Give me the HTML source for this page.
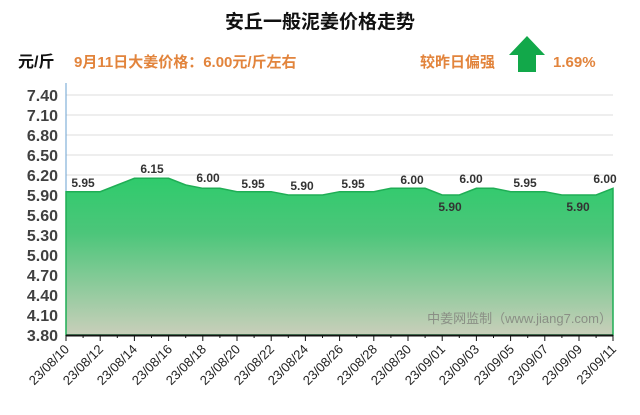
<!DOCTYPE html>
<html><head><meta charset="utf-8"><style>
body{margin:0;background:#fff;}
svg text{font-family:"Liberation Sans","Noto Sans CJK SC",sans-serif;}
</style></head><body>
<svg width="640" height="410" xmlns="http://www.w3.org/2000/svg">
<defs>
<linearGradient id="g" x1="0" y1="0" x2="0" y2="1">
<stop offset="0" stop-color="#2fcb6c"/>
<stop offset="0.35" stop-color="#4cc67a"/>
<stop offset="1" stop-color="#c9cfba"/>
</linearGradient>
</defs>
<text x="320" y="28" font-size="19" font-weight="bold" text-anchor="middle" fill="#111">安丘一般泥姜价格走势</text>
<text x="18" y="67" font-size="16" font-weight="bold" fill="#111">元/斤</text>
<text x="74" y="67" font-size="15" font-weight="bold" fill="#e2843c">9月11日大姜价格：6.00元/斤左右</text>
<text x="420" y="67" font-size="15" font-weight="bold" fill="#e2843c">较昨日偏强</text>
<polygon points="527,36 545,55 536,55 536,72 518,72 518,55 509,55" fill="#12a84a"/>
<text x="553" y="67" font-size="15" font-weight="bold" fill="#e2843c">1.69%</text>
<g stroke="#dcdcdc" stroke-width="1">
<line x1="66" x2="613" y1="95" y2="95"/><line x1="66" x2="613" y1="115" y2="115"/><line x1="66" x2="613" y1="135" y2="135"/><line x1="66" x2="613" y1="155" y2="155"/><line x1="66" x2="613" y1="175" y2="175"/>
</g>
<line x1="66" y1="83" x2="66" y2="335" stroke="#6aa0d0" stroke-width="1"/>
<polygon fill="url(#g)" stroke="#1fae55" stroke-width="1.5" points="66,335 66,191.7 83.1,191.7 100.2,191.7 117.3,185 134.4,178.3 151.5,178.3 168.6,178.3 185.7,185 202.8,188.3 219.9,188.3 237,191.7 254.1,191.7 271.2,191.7 288.3,195 305.4,195 322.5,195 339.6,191.7 356.7,191.7 373.8,191.7 390.9,188.3 408,188.3 425.1,188.3 442.2,195 459.3,195 476.4,188.3 493.5,188.3 510.6,191.7 527.7,191.7 544.8,191.7 561.9,195 579,195 596.1,195 613,188.3 613,335"/>
<g font-size="16" font-weight="bold" fill="#404040" text-anchor="end">
<text x="58" y="101">7.40</text><text x="58" y="121">7.10</text><text x="58" y="141">6.80</text><text x="58" y="161">6.50</text><text x="58" y="181">6.20</text><text x="58" y="201">5.90</text><text x="58" y="221">5.60</text><text x="58" y="241">5.30</text><text x="58" y="261">5.00</text><text x="58" y="281">4.70</text><text x="58" y="301">4.40</text><text x="58" y="321">4.10</text><text x="58" y="341">3.80</text>
</g>
<g font-size="12" font-weight="bold" fill="#333" text-anchor="middle">
<text x="83" y="187">5.95</text><text x="152" y="173">6.15</text><text x="208" y="182">6.00</text><text x="253" y="188">5.95</text><text x="302" y="190">5.90</text><text x="353" y="188">5.95</text><text x="412" y="184">6.00</text><text x="450" y="211">5.90</text><text x="471" y="183">6.00</text><text x="525" y="187">5.95</text><text x="578" y="211">5.90</text><text x="605" y="183">6.00</text>
</g>
<text x="612" y="323" font-size="13" fill="#8a8f85" text-anchor="end">中姜网监制（www.jiang7.com）</text>
<line x1="66" y1="335.5" x2="613" y2="335.5" stroke="#111" stroke-width="2"/>
<g stroke="#111" stroke-width="1">
<path d="M66,335v6M100.2,335v6M134.4,335v6M168.6,335v6M202.8,335v6M237,335v6M271.2,335v6M305.4,335v6M339.6,335v6M373.8,335v6M408,335v6M442.2,335v6M476.4,335v6M510.6,335v6M544.8,335v6M579,335v6M613,335v6"/>
<path d="M83.1,335v3M117.3,335v3M151.5,335v3M185.7,335v3M219.9,335v3M254.1,335v3M288.3,335v3M322.5,335v3M356.7,335v3M390.9,335v3M425.1,335v3M459.3,335v3M493.5,335v3M527.7,335v3M561.9,335v3M596.1,335v3"/>
</g>
<g font-size="13" fill="#222" text-anchor="end">
<text transform="translate(70,350) rotate(-45)">23/08/10</text>
<text transform="translate(104,350) rotate(-45)">23/08/12</text>
<text transform="translate(138,350) rotate(-45)">23/08/14</text>
<text transform="translate(173,350) rotate(-45)">23/08/16</text>
<text transform="translate(207,350) rotate(-45)">23/08/18</text>
<text transform="translate(241,350) rotate(-45)">23/08/20</text>
<text transform="translate(275,350) rotate(-45)">23/08/22</text>
<text transform="translate(309,350) rotate(-45)">23/08/24</text>
<text transform="translate(344,350) rotate(-45)">23/08/26</text>
<text transform="translate(378,350) rotate(-45)">23/08/28</text>
<text transform="translate(412,350) rotate(-45)">23/08/30</text>
<text transform="translate(446,350) rotate(-45)">23/09/01</text>
<text transform="translate(480,350) rotate(-45)">23/09/03</text>
<text transform="translate(515,350) rotate(-45)">23/09/05</text>
<text transform="translate(549,350) rotate(-45)">23/09/07</text>
<text transform="translate(583,350) rotate(-45)">23/09/09</text>
<text transform="translate(617,350) rotate(-45)">23/09/11</text>
</g>
</svg>
</body></html>
